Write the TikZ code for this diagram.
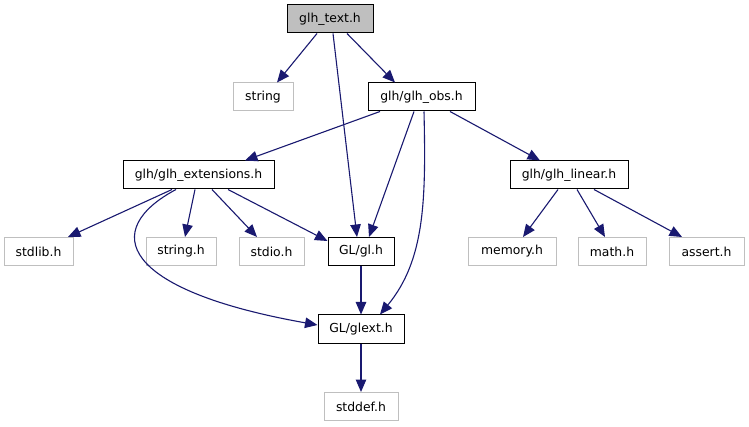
\documentclass[tikz,border=0pt]{standalone}
\usepackage{fontspec}
\setmainfont{DejaVu Sans}
\usetikzlibrary{arrows.meta}
\definecolor{edgeblue}{HTML}{191970}
\definecolor{sysgray}{HTML}{BFBFBF}
\begin{document}
\begin{tikzpicture}[x=1pt,y=-1pt,
  box/.style={draw=black,line width=1pt,rectangle,inner sep=0pt,minimum height=28pt,
    font=\fontsize{12.4}{14}\selectfont},
  sysbox/.style={box,draw=sysgray},
  rootbox/.style={box,fill=sysgray},
  edge/.style={draw=edgeblue,line width=1.1pt,-{Triangle[length=12.5pt,width=10.5pt]}}]
\useasboundingbox[fill=white] (0,0) rectangle (749,427);
\node[rootbox,minimum width=86pt] (text) at (330,19) {glh\_text.h};
\node[sysbox,minimum width=60pt] (string) at (263,97) {string};
\node[box,minimum width=107pt] (obs) at (421.5,97) {glh/glh\_obs.h};
\node[box,minimum width=151pt] (ext) at (198.5,175) {glh/glh\_extensions.h};
\node[box,minimum width=118pt] (linear) at (569,175) {glh/glh\_linear.h};
\node[sysbox,minimum width=69pt] (stdlib) at (38.5,251.5) {stdlib.h};
\node[sysbox,minimum width=70pt] (stringh) at (181,251.5) {string.h};
\node[sysbox,minimum width=65pt] (stdio) at (271.5,251.5) {stdio.h};
\node[box,minimum width=66pt] (gl) at (361,251.5) {GL/gl.h};
\node[sysbox,minimum width=88pt] (memory) at (512,251.5) {memory.h};
\node[sysbox,minimum width=68pt] (math) at (612,251.5) {math.h};
\node[sysbox,minimum width=75pt] (assert) at (706.5,251.5) {assert.h};
\node[box,minimum width=86pt] (glext) at (361,329) {GL/glext.h};
\node[sysbox,minimum width=74pt] (stddef) at (361,406.5) {stddef.h};

\draw[edge] ([xshift=-13pt]text.south) -- ([xshift=14pt]string.north);
\draw[edge] ([xshift=3pt]text.south) -- ([xshift=-4pt]gl.north);
\draw[edge] ([xshift=17pt]text.south) -- ([xshift=-26.5pt]obs.north);
\draw[edge] ([xshift=-41.5pt]obs.south) -- ([xshift=46.5pt]ext.north);
\draw[edge] ([xshift=-7.5pt]obs.south) -- ([xshift=8pt]gl.north);
\draw[edge] ([xshift=2.5pt]obs.south) .. controls (426,200) and (425,260) .. ([xshift=19pt]glext.north);
\draw[edge] ([xshift=28.5pt]obs.south) -- ([xshift=-29pt]linear.north);
\draw[edge] ([xshift=-26.5pt]ext.south) -- ([xshift=29.5pt]stdlib.north);
\draw[edge] ([xshift=-3.5pt]ext.south) -- ([xshift=4pt]stringh.north);
\draw[edge] ([xshift=13.5pt]ext.south) -- ([xshift=-14.5pt]stdio.north);
\draw[edge] ([xshift=29.5pt]ext.south) -- ([yshift=-4pt]gl.north west);
\draw[edge] ([xshift=-22.5pt]ext.south) .. controls (100,230) and (120,290) .. ([yshift=4pt]glext.west);
\draw[edge] (gl) -- (glext);
\draw[edge] (glext) -- (stddef);
\draw[edge] ([xshift=-11pt]linear.south) -- ([xshift=11pt]memory.north);
\draw[edge] ([xshift=8pt]linear.south) -- ([xshift=-7pt]math.north);
\draw[edge] ([xshift=25pt]linear.south) -- ([xshift=-24.5pt]assert.north);
\end{tikzpicture}
\end{document}
